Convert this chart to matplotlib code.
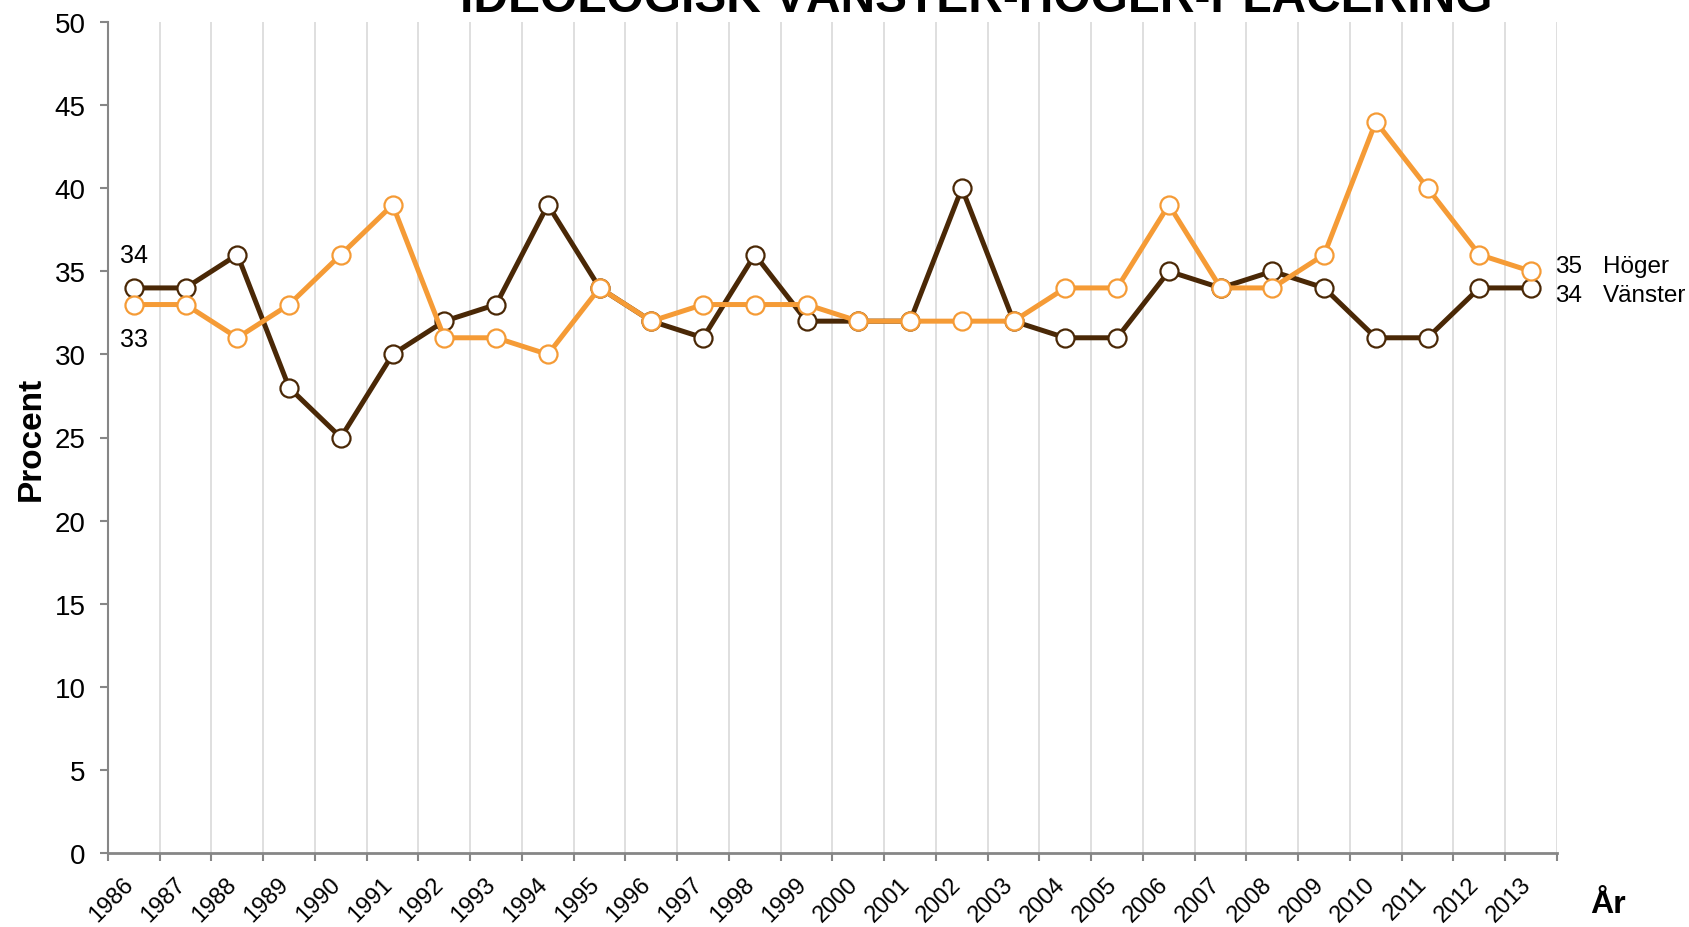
import matplotlib; matplotlib.use("Agg")
import matplotlib.pyplot as plt
import matplotlib.transforms as mtransforms
import numpy as np

plt.rcParams["font.family"] = ["Liberation Sans", "DejaVu Sans"]

years = [str(y) for y in range(1986, 2014)]
vanster = [34, 34, 36, 28, 25, 30, 32, 33, 39, 34, 32, 31, 36, 32,
           32, 32, 40, 32, 31, 31, 35, 34, 35, 34, 31, 31, 34, 34]
hoger = [33, 33, 31, 33, 36, 39, 31, 31, 30, 34, 32, 33, 33, 33,
         32, 32, 32, 32, 34, 34, 39, 34, 34, 36, 44, 40, 36, 35]
title = "IDEOLOGISK VÄNSTER-HÖGER-PLACERING"
DARK, ORANGE, GRID, AXC = "#4a2806", "#f59b36", "#d9d9d9", "#868686"

W, H = 1690, 928
fig = plt.figure(figsize=(W / 100, H / 100), dpi=100)
ax = fig.add_axes([108 / W, 1 - 854 / H, 1449 / W, 831 / H])
x = np.arange(len(years))

ax.plot(x, vanster, "-o", color=DARK, lw=3.6, ms=13, mfc="white", mec=DARK, mew=1.6, zorder=3)
ax.plot(x, hoger, "-o", color=ORANGE, lw=3.6, ms=13, mfc="white", mec=ORANGE, mew=1.6, zorder=4)

ax.set_xlim(-0.5, len(years) - 0.5); ax.set_ylim(0, 50)
ax.set_yticks(range(0, 51, 5))
ax.set_xticks(x); ax.set_xticklabels(years, rotation=45, ha="right", va="top")
ax.set_xticks(np.arange(-0.5, len(years)), minor=True)
ax.tick_params(axis="x", which="major", length=0, pad=14, labelsize=17)
ax.tick_params(axis="x", which="minor", length=6, width=1.5, color=AXC)
ax.tick_params(axis="y", length=6, width=1.5, color=AXC, pad=10, labelsize=20)
shift = mtransforms.ScaledTranslation(4 / 100, 0, fig.dpi_scale_trans)
for lab in ax.get_xticklabels():
    lab.set_transform(lab.get_transform() + shift)
ax.grid(axis="x", which="minor", color=GRID, lw=1.2, zorder=0)
for s in ["top", "right"]: ax.spines[s].set_visible(False)
ax.spines["left"].set_color(AXC); ax.spines["left"].set_linewidth(1.5)
ax.spines["bottom"].set_color(AXC); ax.spines["bottom"].set_linewidth(2)

ax.set_ylabel("Procent", fontsize=24, fontweight="bold", labelpad=6)
fig.text(1608 / W, 1 - 905 / H, "År", fontsize=23, fontweight="bold", ha="center", va="center")
fig.text(976 / W, 1 - 12 / H, title, fontsize=34.5, fontweight="bold", ha="center", va="baseline")

# end labels
ax.annotate(str(vanster[0]), (0, vanster[0]), xytext=(0, 24), textcoords="offset points",
            ha="center", va="center", fontsize=18)
ax.annotate(str(hoger[0]), (0, hoger[0]), xytext=(0, -25), textcoords="offset points",
            ha="center", va="center", fontsize=18)
ax.annotate(f"{hoger[-1]}", (x[-1], hoger[-1]), xytext=(17, 4), textcoords="offset points",
            ha="left", va="center", fontsize=17.5, annotation_clip=False)
ax.annotate("Höger", (x[-1], hoger[-1]), xytext=(52, 4), textcoords="offset points",
            ha="left", va="center", fontsize=17.5, annotation_clip=False)
ax.annotate(f"{vanster[-1]}", (x[-1], vanster[-1]), xytext=(17, -5), textcoords="offset points",
            ha="left", va="center", fontsize=17.5, annotation_clip=False)
ax.annotate("Vänster", (x[-1], vanster[-1]), xytext=(52, -5), textcoords="offset points",
            ha="left", va="center", fontsize=17.5, annotation_clip=False)

fig.savefig("out.png", dpi=100)
